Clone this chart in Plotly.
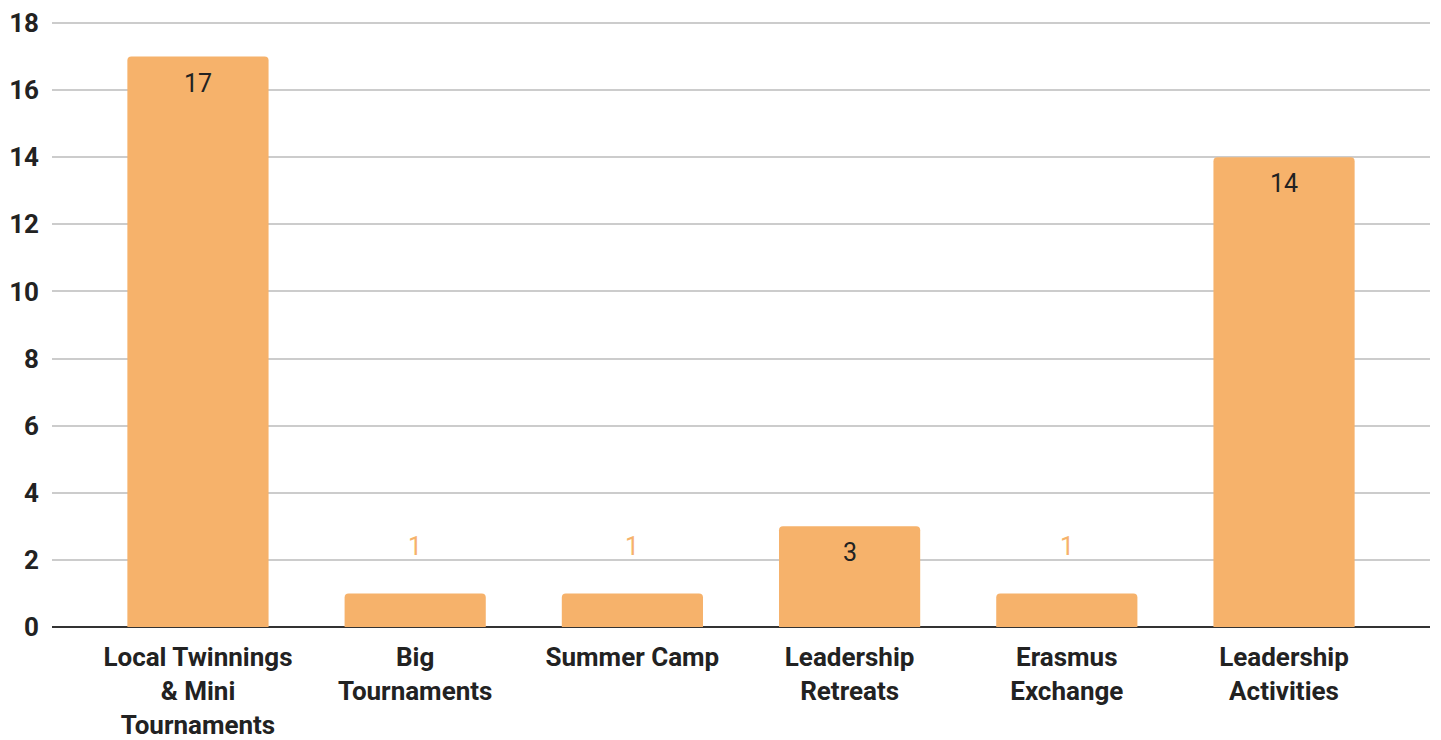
import plotly.graph_objects as go

categories = ["Local Twinnings<br>& Mini<br>Tournaments", "Big<br>Tournaments", "Summer Camp",
              "Leadership<br>Retreats", "Erasmus<br>Exchange", "Leadership<br>Activities"]
values = [17, 1, 1, 3, 1, 14]
y_ticks = [0, 2, 4, 6, 8, 10, 12, 14, 16, 18]

BAR = "#f6b26b"

fig = go.Figure()
fig.add_trace(go.Bar(
    x=list(range(len(categories))), y=values,
    marker=dict(color=BAR, cornerradius=4, line=dict(width=0)),
    width=0.65, hoverinfo="y",
))

for i, v in enumerate(values):
    if v >= 3:
        fig.add_annotation(x=i, y=v, text=str(v), showarrow=False, yanchor="top", yshift=-10,
                           font=dict(family="Roboto", size=25, color="#222222"))
    else:
        fig.add_annotation(x=i, y=v, text=str(v), showarrow=False, yanchor="bottom", yshift=30,
                           font=dict(family="Roboto", size=25, color=BAR))

fig.update_layout(
    width=1441, height=740,
    margin=dict(l=44, r=19, t=14, b=121),
    paper_bgcolor="white", plot_bgcolor="white",
    showlegend=False,
    font=dict(family="Roboto", size=26, color="#222222"),
    xaxis=dict(
        tickmode="array", tickvals=list(range(len(categories))), ticktext=categories,
        range=[-0.672, 5.672], showgrid=False, showline=False, zeroline=False,
        tickfont=dict(family="Roboto", size=26, color="#222222", weight="bold"),
        ticks="", ticklabelstandoff=12, automargin=False,
    ),
    yaxis=dict(
        range=[0, 18.03], tickmode="array", tickvals=y_ticks,
        showgrid=True, gridcolor="#cccccc", gridwidth=1.5,
        zeroline=True, zerolinecolor="#333333", zerolinewidth=2,
        showline=False, ticks="",
        tickfont=dict(family="Roboto", size=26, color="#222222", weight="bold"),
        ticklabelstandoff=12, automargin=False,
    ),
)

fig.write_html("out.html")
